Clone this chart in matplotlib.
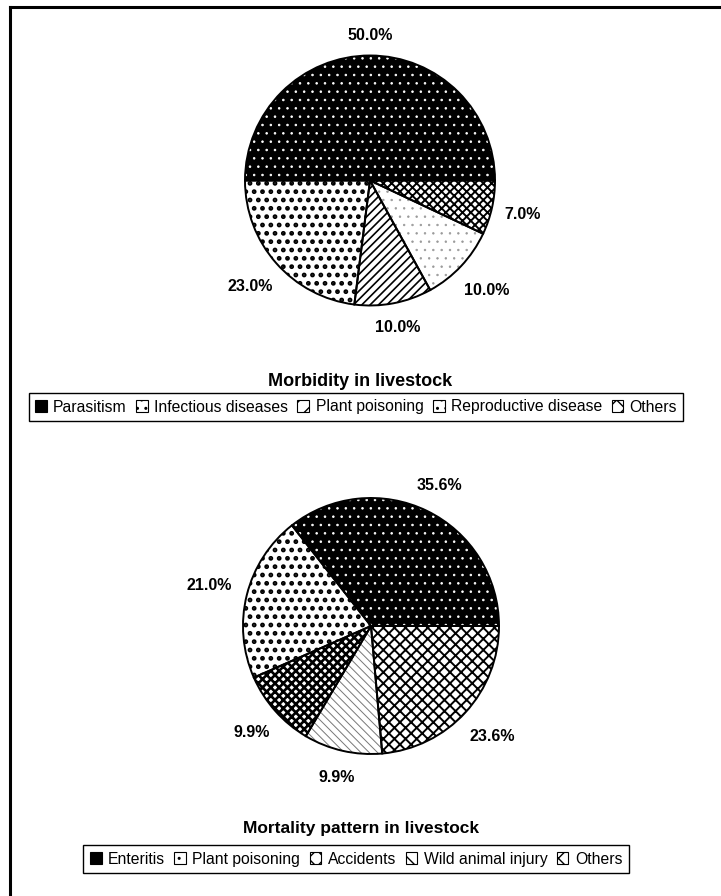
"""Morbidity and mortality pie charts for livestock (scanned-figure look)."""
import numpy as np
import matplotlib
matplotlib.use('Agg')
import matplotlib.pyplot as plt
import matplotlib.patches as mpatches

# --- data ---
morb_labels = ['Parasitism', 'Infectious diseases', 'Plant poisoning',
               'Reproductive disease', 'Others']
morb_values = [50.0, 23.0, 10.0, 10.0, 7.0]

mort_labels = ['Enteritis', 'Plant poisoning', 'Accidents',
               'Wild animal injury', 'Others']
mort_values = [35.6, 21.0, 9.9, 9.9, 23.6]

# --- styles: (face, hatch, hatch colour, hatch linewidth) ---
morb_styles = [('black', '..', 'white', 0.6),
               ('white', '..', 'black', 2.2),
               ('white', '////', 'black', 1.2),
               ('white', '..', '#999999', 0.5),
               ('white', 'xxxx', 'black', 1.4)]
mort_styles = [('black', '..', 'white', 0.6),
               ('white', '..', 'black', 2.2),
               ('white', 'xxxx', 'black', 1.9),
               ('white', '\\\\\\\\', '#777777', 0.7),
               ('white', 'xxx', 'black', 1.4)]
# radial distance of each percentage label (in pie radii)
morb_labeldist = [1.16, 1.28, 1.20, 1.28, 1.25]
mort_labeldist = [1.22, 1.30, 1.25, 1.21, 1.28]

plt.rcParams['font.family'] = ['Liberation Sans', 'DejaVu Sans']

W, H = 721, 896
fig = plt.figure(figsize=(W / 100, H / 100), dpi=100)


def px_axes(cx, cy, r):
    half = 1.5 * r
    return fig.add_axes([(cx - half) / W, (H - cy - half) / H, 2 * half / W, 2 * half / H])


def draw_pie(ax, values, styles, dists):
    wedges, _ = ax.pie(values, startangle=0, counterclock=True, radius=1)
    for w, (face, hatch, hcol, hlw) in zip(wedges, styles):
        w.set_facecolor(face)
        w.set_hatch(hatch)
        w.set_edgecolor(hcol)
        w.set_linewidth(0)
        if hasattr(w, 'set_hatch_linewidth'):
            w.set_hatch_linewidth(hlw)
    outline, _, autotexts = ax.pie(values, startangle=0, counterclock=True, radius=1,
                                   autopct='%1.1f%%', pctdistance=1.24,
                                   wedgeprops=dict(facecolor='none', edgecolor='black', linewidth=1.4),
                                   textprops=dict(fontsize=11.5, fontweight='bold'))
    for w, t, d in zip(outline, autotexts, dists):
        mid = np.deg2rad((w.theta1 + w.theta2) / 2)
        t.set_position((d * np.cos(mid), d * np.sin(mid)))
    ax.set_xlim(-1.5, 1.5)
    ax.set_ylim(-1.5, 1.5)
    ax.set_aspect('equal')
    ax.axis('off')


def handles(styles):
    out = []
    for face, hatch, hcol, hlw in styles:
        out.append(mpatches.Patch(facecolor=face, edgecolor='black',
                                  hatch=hatch[:2] if face == 'white' else '', linewidth=0.8))
    return out


ax1 = px_axes(370, 180.5, 125)
draw_pie(ax1, morb_values, morb_styles, morb_labeldist)
ax2 = px_axes(371, 626, 128)
draw_pie(ax2, mort_values, mort_styles, mort_labeldist)

fig.text(360 / W, 1 - 382 / H, 'Morbidity in livestock', ha='center', va='center',
         fontsize=13, fontweight='bold')
fig.text(361 / W, 1 - 828 / H, 'Mortality pattern in livestock', ha='center', va='center',
         fontsize=12.5, fontweight='bold')

for labels, styles, cy in [(morb_labels, morb_styles, 407), (mort_labels, mort_styles, 859)]:
    leg = fig.legend(handles(styles), labels, loc='center', bbox_to_anchor=(356 / W, 1 - cy / H),
                     ncol=5, fancybox=False, edgecolor='black', framealpha=1,
                     handlelength=0.75, handleheight=0.75, handletextpad=0.4,
                     columnspacing=0.6, borderpad=0.4,
                     prop=dict(size=11.3))
    leg.get_frame().set_linewidth(1.0)

# partial outer frame (top and left lines of the scanned border)
fig.add_artist(plt.Line2D([10 / W, 1], [1 - 7 / H, 1 - 7 / H], color='black', linewidth=2.2))
fig.add_artist(plt.Line2D([10 / W, 10 / W], [0, 1 - 7 / H], color='black', linewidth=2.2))

fig.savefig('out.png', dpi=100)
